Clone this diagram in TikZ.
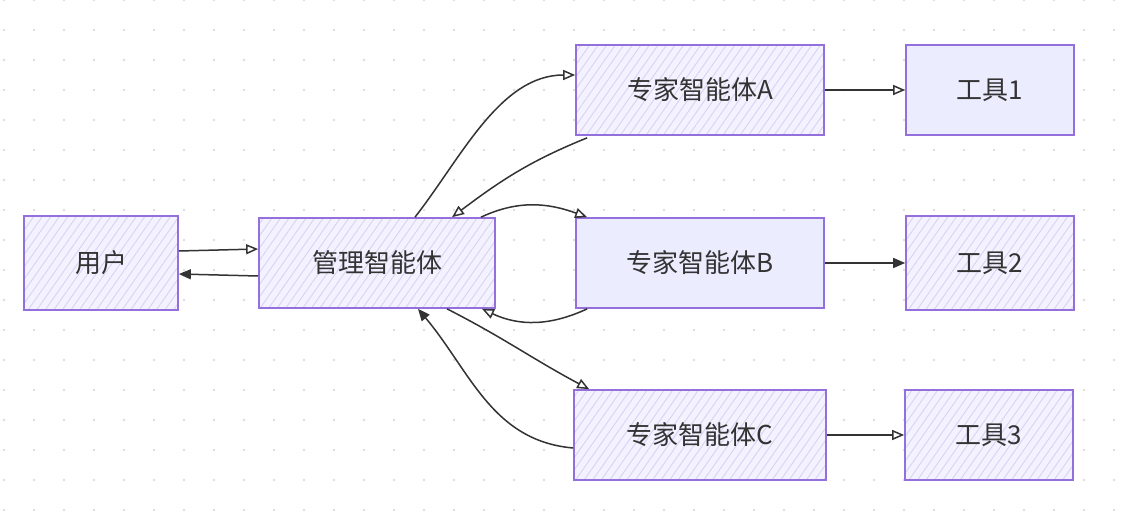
\documentclass[tikz,border=0pt]{standalone}
\usepackage{fontspec}
\setmainfont{Noto Sans CJK SC}
\usetikzlibrary{arrows.meta,patterns.meta}
\definecolor{boxfill}{HTML}{ECECFF}
\definecolor{hatchbg}{HTML}{F3F2FE}
\definecolor{hatchln}{HTML}{D8D3F5}
\definecolor{boxline}{HTML}{9370DB}
\definecolor{edgec}{HTML}{333333}
\definecolor{dotc}{HTML}{DDDDDD}
\tikzset{
 box/.style={draw=boxline, line width=1.7pt, fill=boxfill, text=edgec, font=\fontsize{26}{31}\selectfont, inner sep=0pt},
 hbox/.style={box, fill=none, preaction={fill=hatchbg}, preaction={pattern={Lines[angle=55,distance=7pt,line width=0.9pt]}, pattern color=hatchln}},
 link/.style={draw=edgec, line width=1.5pt, -{Triangle[open,length=12pt,width=10pt]}},
 flink/.style={draw=edgec, line width=1.5pt, -{Triangle[length=12pt,width=10pt]}},
}
\begin{document}
\begin{tikzpicture}[x=1pt,y=-1pt]
\fill[white] (0,0) rectangle (1124,521);
\useasboundingbox (0,0) rectangle (1124,521);
\foreach \i in {0,...,37} \foreach \j in {0,...,17} \fill[dotc] (4+30*\i, 30*\j) circle (1.3pt);

\node[hbox, minimum width=154pt, minimum height=94pt] (U) at (101,263) {用户};
\node[hbox, minimum width=236pt, minimum height=90pt] (M) at (377,263) {管理智能体};
\node[hbox, minimum width=248pt, minimum height=90pt] (A) at (700,90) {专家智能体A};
\node[box, minimum width=248pt, minimum height=90pt] (B) at (700,263) {专家智能体B};
\node[hbox, minimum width=252pt, minimum height=90pt] (C) at (700,435) {专家智能体C};
\node[box, minimum width=168pt, minimum height=90pt] (T1) at (990,90) {工具1};
\node[hbox, minimum width=168pt, minimum height=94pt] (T2) at (990,263) {工具2};
\node[hbox, minimum width=168pt, minimum height=90pt] (T3) at (989,435) {工具3};

\draw[link] ([yshift=12pt]U.east) -- ([yshift=14pt]M.west);
\draw[flink] ([yshift=-13pt]M.west) -- ([yshift=-11pt]U.east);
\draw[link] ([xshift=38pt]M.north) to[out=52,in=180,looseness=0.9] ([yshift=15pt]A.west);
\draw[link] ([xshift=12pt,yshift=-2pt]A.south west) to[out=202,in=37] ([xshift=75pt]M.north);
\draw[link] ([xshift=104pt]M.north) to[out=25,in=160] ([xshift=12pt]B.north west);
\draw[link] ([xshift=12pt]B.south west) to[out=205,in=-25] ([xshift=105pt]M.south);
\draw[link] ([xshift=70pt]M.south) to[out=-27,in=152] ([xshift=16pt]C.north west);
\draw[flink] ([yshift=-13pt]C.west) to[out=175,in=-50] ([xshift=41pt]M.south);
\draw[link] (A.east) -- (T1.west);
\draw[flink] (B.east) -- (T2.west);
\draw[link] (C.east) -- (T3.west);
\end{tikzpicture}
\end{document}
